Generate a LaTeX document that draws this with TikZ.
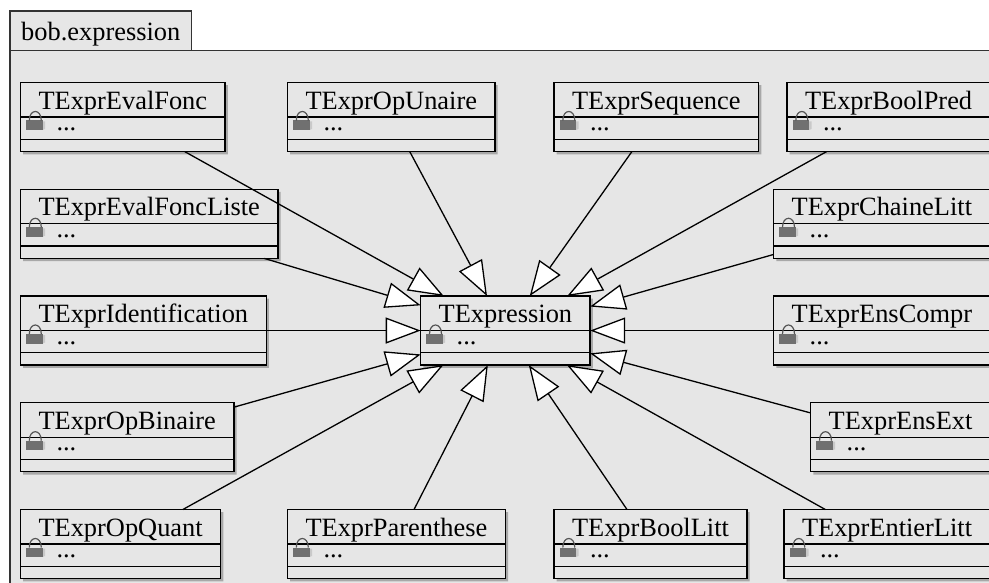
\documentclass[tikz,border=0pt]{standalone}
\usepackage{fontspec}
\setmainfont{Liberation Serif}
\usetikzlibrary{shapes.multipart}
\usetikzlibrary{shadows}
\usetikzlibrary{arrows.meta}
\definecolor{pkggray}{HTML}{E6E6E6}
\definecolor{shadowgray}{HTML}{A8A8A8}
\definecolor{lockgray}{HTML}{707070}
\definecolor{locklight}{HTML}{C9C9C9}
\definecolor{lockarc}{HTML}{555555}
\newcommand{\namecell}{\rule[-7.2pt]{0pt}{33.2pt}}
\newcommand{\membercell}{\rule[-8pt]{0pt}{21pt}\hspace{18pt}...\nodepart{three}\rule{0pt}{11pt}}
\tikzset{
  lockpic/.pic={
    \fill [locklight] (22pt, -39pt) -- (24.5pt, -39pt) -- (24.5pt, -46.5pt) -- (22pt, -47.5pt) -- cycle;
    \fill [lockgray] (5.5pt, -38pt) rectangle (22pt, -47.5pt);
    \draw [lockarc, line width=1.2pt] (8.8pt, -38pt) .. controls (8.8pt, -26pt) and (20.8pt, -26pt) .. (20.8pt, -38pt);
  },
  classbox/.style={rectangle split, rectangle split parts=3, rectangle split part align={center, left, center},
    anchor=north west, draw=black, line width=1.3pt, fill=pkggray, inner xsep=18pt, inner ysep=0pt,
    font=\fontsize{26.4}{30}\selectfont,
    drop shadow={shadow xshift=2.7pt, shadow yshift=-2.7pt, fill=shadowgray, opacity=1},
    append after command={pic at (\tikzlastnode.north west) {lockpic}}},
  pkgbox/.style={rectangle, anchor=north west, draw=black!80, line width=1.3pt, fill=pkggray},
  inherit/.style={line width=1.3pt, -{Triangle[length=35pt, width=26pt, fill=white]}}
}
\begin{document}
\begin{tikzpicture}
[every node/.style={inner sep=0pt, outer sep=0pt}]
\useasboundingbox (0pt, 0pt) rectangle (989pt, -583pt);
\node (pkgbody) [pkgbox, minimum width=1000pt, minimum height=560pt] at (10pt, -50.5pt) {};
\node (pkgtab) [pkgbox, minimum width=181.5pt, text height=29.7pt, text depth=9.8pt, font=\fontsize{26.4}{30}\selectfont] at (10pt, -11pt) {bob.expression};
\node (expr) [classbox] at (420.7pt, -296pt) {\namecell TExpression\nodepart{two}\membercell};
\node (evalfonc) [classbox] at (20.5pt, -82.5pt) {\namecell TExprEvalFonc\nodepart{two}\membercell};
\node (opunaire) [classbox] at (287.5pt, -82.5pt) {\namecell TExprOpUnaire\nodepart{two}\membercell};
\node (sequence) [classbox] at (554pt, -82.5pt) {\namecell TExprSequence\nodepart{two}\membercell};
\node (boolpred) [classbox] at (787pt, -82.5pt) {\namecell TExprBoolPred\nodepart{two}\membercell};
\node (evalliste) [classbox] at (20.5pt, -189.3pt) {\namecell TExprEvalFoncListe\nodepart{two}\membercell};
\node (chaine) [classbox] at (773.7pt, -189.3pt) {\namecell TExprChaineLitt\nodepart{two}\membercell};
\node (ident) [classbox] at (20.5pt, -296pt) {\namecell TExprIdentification\nodepart{two}\membercell};
\node (enscompr) [classbox] at (773.7pt, -296pt) {\namecell TExprEnsCompr\nodepart{two}\membercell};
\node (opbinaire) [classbox] at (20.5pt, -402.7pt) {\namecell TExprOpBinaire\nodepart{two}\membercell};
\node (ensext) [classbox] at (810.7pt, -402.7pt) {\namecell TExprEnsExt\nodepart{two}\membercell};
\node (opquant) [classbox] at (20.5pt, -509.5pt) {\namecell TExprOpQuant\nodepart{two}\membercell};
\node (parenthese) [classbox] at (287.5pt, -509.5pt) {\namecell TExprParenthese\nodepart{two}\membercell};
\node (boollitt) [classbox] at (554pt, -509.5pt) {\namecell TExprBoolLitt\nodepart{two}\membercell};
\node (entier) [classbox] at (784pt, -509.5pt) {\namecell TExprEntierLitt\nodepart{two}\membercell};
\draw [inherit] (evalfonc) to (expr);
\draw [inherit] (opunaire) to (expr);
\draw [inherit] (sequence) to (expr);
\draw [inherit] (boolpred) to (expr);
\draw [inherit] (evalliste) to (expr);
\draw [inherit] (chaine) to (expr);
\draw [inherit] (ident) to (expr);
\draw [inherit] (enscompr) to (expr);
\draw [inherit] (opbinaire) to (expr);
\draw [inherit] (ensext) to (expr);
\draw [inherit] (opquant) to (expr);
\draw [inherit] (parenthese) to (expr);
\draw [inherit] (boollitt) to (expr);
\draw [inherit] (entier) to (expr);
\end{tikzpicture}
\end{document}
